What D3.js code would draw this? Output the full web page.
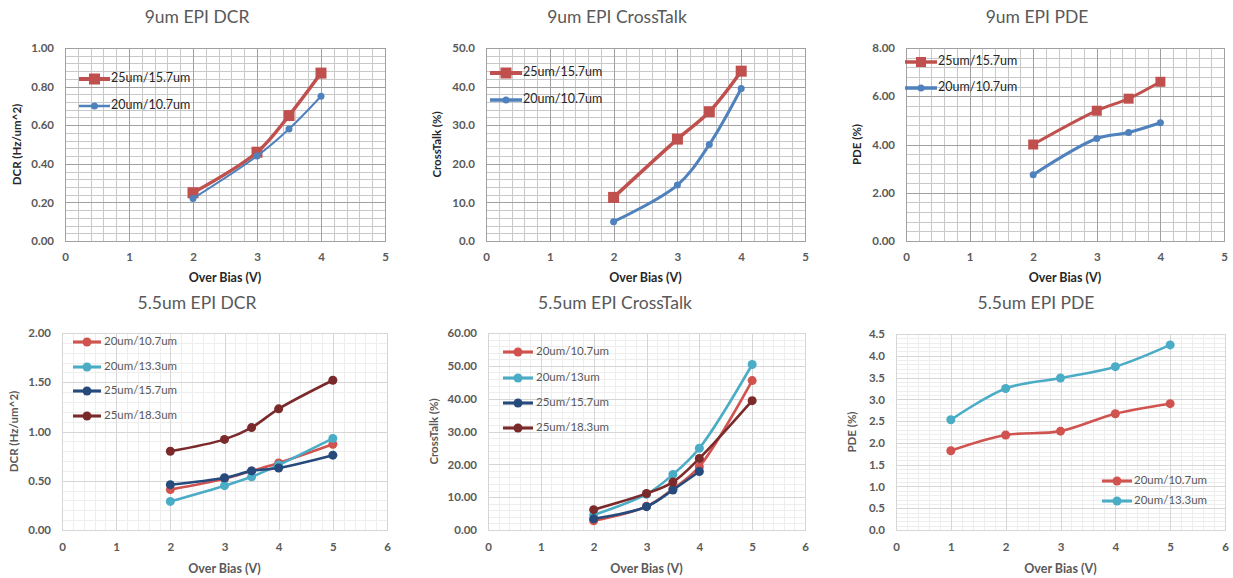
<!DOCTYPE html>
<html><head><meta charset="utf-8">
<script src="https://cdn.jsdelivr.net/npm/d3@7"></script>
<style>
html,body{margin:0;padding:0;background:#fff;}
svg{display:block;font-family:Lato,"Open Sans",sans-serif;}
</style></head>
<body><svg id="c" width="1233" height="578"></svg>
<script>
// ---- data ----
const seriesNamesTop = ["25um/15.7um", "20um/10.7um"];
const biasTop = [2, 3, 3.5, 4];
const dcr9_25 = [0.25, 0.46, 0.65, 0.87];
const dcr9_20 = [0.22, 0.44, 0.58, 0.75];
const ct9_25 = [11.3, 26.4, 33.5, 44.0];
const ct9_20 = [5.0, 14.5, 25.0, 39.5];
const pde9_25 = [4.0, 5.4, 5.9, 6.6];
const pde9_20 = [2.75, 4.25, 4.5, 4.9];

const seriesNamesDcr55 = ["20um/10.7um", "20um/13.3um", "25um/15.7um", "25um/18.3um"];
const seriesNamesCt55 = ["20um/10.7um", "20um/13um", "25um/15.7um", "25um/18.3um"];
const biasBot = [2, 3, 3.5, 4, 5];
const dcr55_a = [0.41, 0.52, 0.60, 0.68, 0.87];
const dcr55_b = [0.29, 0.45, 0.54, 0.66, 0.93];
const dcr55_c = [0.46, 0.53, 0.60, 0.63, 0.76];
const dcr55_d = [0.80, 0.92, 1.04, 1.23, 1.52];
const ct55_a = [2.8, 7.2, 12.5, 19.3, 45.5];
const ct55_b = [4.6, 10.9, 16.9, 24.9, 50.4];
const ct55_c = [3.4, 7.1, 12.2, 17.8, null];
const ct55_d = [6.2, 11.1, 14.6, 21.8, 39.4];

const seriesNamesPde55 = ["20um/10.7um", "20um/13.3um"];
const biasPde55 = [1, 2, 3, 4, 5];
const pde55_a = [1.82, 2.18, 2.27, 2.67, 2.90];
const pde55_b = [2.53, 3.25, 3.49, 3.75, 4.25];

const titles = ["9um EPI DCR", "9um EPI CrossTalk", "9um EPI PDE", "5.5um EPI DCR", "5.5um EPI CrossTalk", "5.5um EPI PDE"];
const yTitles = ["DCR (Hz/um^2)", "CrossTalk (%)", "PDE (%)", "DCR (Hz/um^2)", "CrossTalk (%)", "PDE (%)"];
const xTitle = "Over Bias (V)";

// ---- styling / layout ----
const topColors = ["#c0504d", "#4f81bd"];
const botColors = ["#d0534f", "#4bacc6", "#254a7b", "#7a2a2a"];

const panels = [
  {rect:[65,385,48,241], xMax:5, yMax:1.0, yStep:0.2, yFmt:".2f", xs:biasTop, ys:[dcr9_25,dcr9_20], names:seriesNamesTop, colors:topColors, style:"top",
   titleX:197, titleY:19, yTitleX:18, legend:{x0:79,x1:110,tx:111,ys:[79,106]}, widths:[3.5,2], mark:["sq","ci"], msize:[11,7]},
  {rect:[486,805,48,241], xMax:5, yMax:50, yStep:10, yFmt:".1f", xs:biasTop, ys:[ct9_25,ct9_20], names:seriesNamesTop, colors:topColors, style:"top",
   titleX:617, titleY:19, yTitleX:438, legend:{x0:490,x1:522,tx:523,ys:[73,100]}, widths:[3.5,3], mark:["sq","ci"], msize:[11,7]},
  {rect:[906,1224,48,241], xMax:5, yMax:8, yStep:2, yFmt:".2f", xs:biasTop, ys:[pde9_25,pde9_20], names:seriesNamesTop, colors:topColors, style:"top",
   titleX:1037, titleY:19, yTitleX:858, legend:{x0:905,x1:937,tx:938,ys:[62,88]}, widths:[3,3], mark:["sq","ci"], msize:[10,7]},
  {rect:[62,387,333,530], xMax:6, yMax:2.0, yStep:0.5, yFmt:".2f", xs:biasBot, ys:[dcr55_a,dcr55_b,dcr55_c,dcr55_d], names:seriesNamesDcr55, colors:botColors, style:"bot",
   titleX:197, titleY:305, yTitleX:15, legend:{x0:73,x1:101,tx:104,ys:[342,367,391,416]}, widths:[2.6,2.6,2.6,2.6], mark:["ci","ci","ci","ci"], msize:[9,9,9,9]},
  {rect:[488,805,333,530], xMax:6, yMax:60, yStep:10, yFmt:".2f", xs:biasBot, ys:[ct55_a,ct55_b,ct55_c,ct55_d], names:seriesNamesCt55, colors:botColors, style:"bot",
   titleX:615, titleY:305, yTitleX:435, legend:{x0:503,x1:533,tx:536,ys:[352,378,403,428]}, widths:[2.6,2.6,2.6,2.6], mark:["ci","ci","ci","ci"], msize:[9,9,9,9]},
  {rect:[896,1225,334,530], xMax:6, yMax:4.5, yStep:0.5, yFmt:".1f", xs:biasPde55, ys:[pde55_a,pde55_b], names:seriesNamesPde55, colors:[botColors[0],botColors[1]], style:"bot",
   titleX:1036, titleY:305, yTitleX:853, legend:{x0:1102,x1:1132,tx:1134,ys:[481,501]}, widths:[2.6,2.6], mark:["ci","ci"], msize:[9,9]}
];

const svg = d3.select("#c");

panels.forEach((p, i) => {
  const [L, R, T, B] = p.rect;
  const x = d3.scaleLinear().domain([0, p.xMax]).range([L, R]);
  const y = d3.scaleLinear().domain([0, p.yMax]).range([B, T]);
  const g = svg.append("g");
  const isTop = p.style === "top";

  // grid
  const xMinor = d3.range(0, p.xMax + 1e-9, 0.2);
  const yMinorStep = p.yStep / 5;
  const yMinor = d3.range(0, p.yMax + 1e-9, yMinorStep);
  const minorCol = isTop ? "#c8c8c8" : "#eeeeee";
  const majorCol = isTop ? "#a0a0a0" : "#d6d6d6";
  const grid = g.append("g");
  grid.selectAll("line.vm").data(xMinor).join("line")
    .attr("x1", d => Math.round(x(d)) + 0.5).attr("x2", d => Math.round(x(d)) + 0.5)
    .attr("y1", T).attr("y2", B).attr("stroke", minorCol).attr("stroke-width", 1);
  grid.selectAll("line.hm").data(yMinor).join("line")
    .attr("y1", d => Math.round(y(d)) + 0.5).attr("y2", d => Math.round(y(d)) + 0.5)
    .attr("x1", L).attr("x2", R).attr("stroke", minorCol).attr("stroke-width", 1);
  const xMajor = d3.range(0, p.xMax + 1e-9, 1);
  const yMajor = d3.range(0, p.yMax + 1e-9, p.yStep);
  grid.selectAll("line.vM").data(xMajor).join("line")
    .attr("x1", d => Math.round(x(d)) + 0.5).attr("x2", d => Math.round(x(d)) + 0.5)
    .attr("y1", T).attr("y2", B).attr("stroke", majorCol).attr("stroke-width", 1);
  grid.selectAll("line.hM").data(yMajor).join("line")
    .attr("y1", d => Math.round(y(d)) + 0.5).attr("y2", d => Math.round(y(d)) + 0.5)
    .attr("x1", L).attr("x2", R).attr("stroke", majorCol).attr("stroke-width", 1);
  g.append("rect").attr("x", L + 0.5).attr("y", T + 0.5).attr("width", R - L).attr("height", B - T)
    .attr("fill", "none").attr("stroke", majorCol);

  // axes (labels only)
  const tickCol = "#595959";
  const xAxis = d3.axisBottom(x).tickValues(xMajor).tickFormat(d3.format("d")).tickSize(0).tickPadding(isTop ? 12 : 13);
  const ax = g.append("g").attr("transform", `translate(0,${B})`).call(xAxis);
  ax.select(".domain").remove();
  ax.selectAll("text").attr("fill", tickCol).attr("font-size", 11.5).attr("font-weight", "bold").attr("font-family", "Lato,sans-serif");
  const yAxis = d3.axisLeft(y).tickValues(yMajor).tickFormat(d3.format(p.yFmt)).tickSize(0).tickPadding(11);
  const ay = g.append("g").attr("transform", `translate(${L},0)`).call(yAxis);
  ay.select(".domain").remove();
  ay.selectAll("text").attr("fill", tickCol).attr("font-size", 11.5).attr("font-weight", "bold").attr("font-family", "Lato,sans-serif");

  // titles
  g.append("text").attr("x", p.titleX).attr("y", p.titleY).attr("text-anchor", "middle").attr("dominant-baseline", "middle")
    .attr("font-size", 17.5).attr("fill", "#595959").text(titles[i]);
  g.append("text").attr("x", (L + R) / 2).attr("y", isTop ? 279 : 570).attr("text-anchor", "middle").attr("dominant-baseline", "middle")
    .attr("font-size", 12.5).attr("font-weight", "bold").attr("fill", isTop ? "#262626" : "#595959").text(xTitle);
  g.append("text").attr("transform", `translate(${p.yTitleX},${(T + B) / 2}) rotate(-90)`).attr("text-anchor", "middle").attr("dominant-baseline", "middle")
    .attr("font-size", 11.5).attr("font-weight", "bold").attr("fill", isTop ? "#262626" : "#595959").text(yTitles[i]);

  // series
  p.ys.forEach((vals, s) => {
    const pts = p.xs.map((xv, k) => [xv, vals[k]]).filter(d => d[1] != null);
    const line = d3.line().x(d => x(d[0])).y(d => y(d[1])).curve(d3.curveCatmullRom.alpha(0.5));
    g.append("path").attr("d", line(pts)).attr("fill", "none").attr("stroke", p.colors[s]).attr("stroke-width", p.widths[s]);
    const ms = p.msize[s];
    if (p.mark[s] === "sq") {
      g.selectAll(null).data(pts).join("rect")
        .attr("x", d => x(d[0]) - ms / 2).attr("y", d => y(d[1]) - ms / 2).attr("width", ms).attr("height", ms)
        .attr("fill", p.colors[s]);
    } else {
      g.selectAll(null).data(pts).join("circle")
        .attr("cx", d => x(d[0])).attr("cy", d => y(d[1])).attr("r", ms / 2).attr("fill", p.colors[s]);
    }
    // legend
    const lg = p.legend, ly = lg.ys[s];
    g.append("line").attr("x1", lg.x0).attr("x2", lg.x1).attr("y1", ly).attr("y2", ly)
      .attr("stroke", p.colors[s]).attr("stroke-width", p.widths[s] + 0.5);
    const mx = (lg.x0 + lg.x1) / 2;
    if (p.mark[s] === "sq") {
      g.append("rect").attr("x", mx - ms / 2).attr("y", ly - ms / 2).attr("width", ms).attr("height", ms).attr("fill", p.colors[s]);
    } else {
      g.append("circle").attr("cx", mx).attr("cy", ly).attr("r", ms / 2).attr("fill", p.colors[s]);
    }
    g.append("text").attr("x", lg.tx).attr("y", ly).attr("dominant-baseline", "middle")
      .attr("font-size", isTop ? 12.5 : 11.5).attr("fill", isTop ? "#262626" : "#595959").text(p.names[s]);
  });
});
</script></body></html>
